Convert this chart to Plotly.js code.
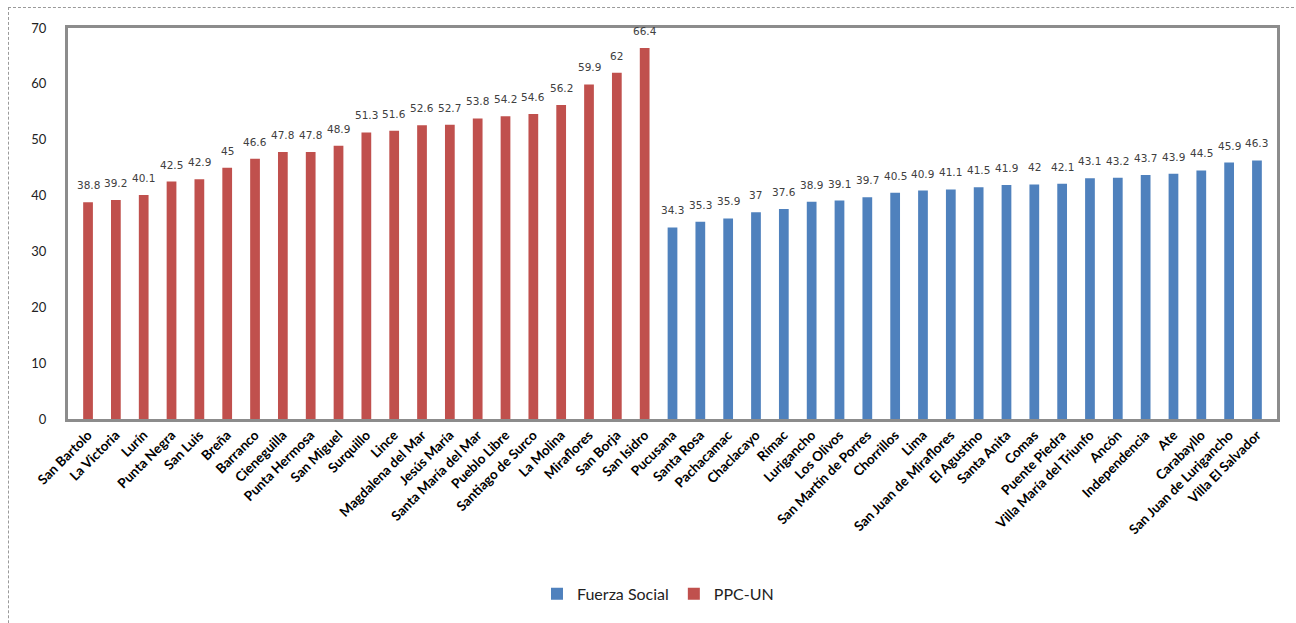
<!DOCTYPE html>
<html>
<head>
<meta charset="utf-8">
<script src="https://cdn.plot.ly/plotly-3.0.1.min.js"></script>
<style>
html,body{margin:0;padding:0;background:#fff;}
#wrap{position:relative;width:1296px;height:623px;overflow:hidden;}
#frame{position:absolute;left:8px;top:7px;width:1300px;height:700px;border-left:1px dashed #9a9a9a;border-top:1px dashed #9a9a9a;}
#chart{position:absolute;left:0;top:0;width:1296px;height:623px;}
</style>
</head>
<body>
<div id="wrap">
<div id="frame"></div>
<div id="chart"></div>
</div>
<script>
const categories = ["San Bartolo","La Victoria","Lurín","Punta Negra","San Luis","Breña","Barranco","Cieneguilla","Punta Hermosa","San Miguel","Surquillo","Lince","Magdalena del Mar","Jesús María","Santa María del Mar","Pueblo Libre","Santiago de Surco","La Molina","Miraflores","San Borja","San Isidro",
"Pucusana","Santa Rosa","Pachacamac","Chaclacayo","Rímac","Lurigancho","Los Olivos","San Martín de Porres","Chorrillos","Lima","San Juan de Miraflores","El Agustino","Santa Anita","Comas","Puente Piedra","Villa María del Triunfo","Ancón","Independencia","Ate","Carabayllo","San Juan de Lurigancho","Villa El Salvador"];
const ppcValues = [38.8,39.2,40.1,42.5,42.9,45,46.6,47.8,47.8,48.9,51.3,51.6,52.6,52.7,53.8,54.2,54.6,56.2,59.9,62,66.4];
const fuerzaValues = [34.3,35.3,35.9,37,37.6,38.9,39.1,39.7,40.5,40.9,41.1,41.5,41.9,42,42.1,43.1,43.2,43.7,43.9,44.5,45.9,46.3];
const yTicks = [0,10,20,30,40,50,60,70];

const nP = ppcValues.length;
const ppcX = categories.slice(0, nP);
const fsX = categories.slice(nP);

const annotations = [];
function addLabels(xs, ys){
  xs.forEach((c,i)=>{
    annotations.push({x:c, y:ys[i], xref:'x', yref:'y', text:String(ys[i]), showarrow:false,
      yanchor:'bottom', yshift:9, font:{family:'DejaVu Sans', size:10.5, color:'#404040'}});
  });
}
addLabels(ppcX, ppcValues);
addLabels(fsX, fuerzaValues);

const traces = [
  {type:'bar', name:'Fuerza Social', x:fsX, y:fuerzaValues, width:0.35,
   marker:{color:'#4F81BD'}, hoverinfo:'x+y'},
  {type:'bar', name:'PPC-UN', x:ppcX, y:ppcValues, width:0.35,
   marker:{color:'#C0504D'}, hoverinfo:'x+y'}
];

const layout = {
  width:1296, height:623,
  margin:{l:68, r:19, t:28, b:201},
  paper_bgcolor:'rgba(0,0,0,0)', plot_bgcolor:'#fff',
  barmode:'overlay',
  showlegend:true,
  legend:{orientation:'h', x:0.488, xanchor:'center', y:-0.447, yanchor:'middle',
    font:{family:'Lato', size:16, color:'#222'}, traceorder:'normal'},
  xaxis:{type:'category', categoryorder:'array', categoryarray:categories,
    range:[-0.72, 42.72], tickangle:-45, showgrid:false, ticks:'',
    tickfont:{family:'Lato', size:13.5, color:'#000', weight:'bold'},
    showline:true, mirror:true, linecolor:'#8c8c8c', linewidth:3, zeroline:false},
  yaxis:{range:[0,70], tickvals:yTicks, ticks:'', showgrid:false, zeroline:false,
    tickfont:{family:'Lato', size:13, color:'#222'},
    showline:true, mirror:true, linecolor:'#8c8c8c', linewidth:3, ticklabelstandoff:16},
  annotations:annotations
};

Plotly.newPlot('chart', traces, layout, {displayModeBar:false, staticPlot:true});
</script>
</body>
</html>
